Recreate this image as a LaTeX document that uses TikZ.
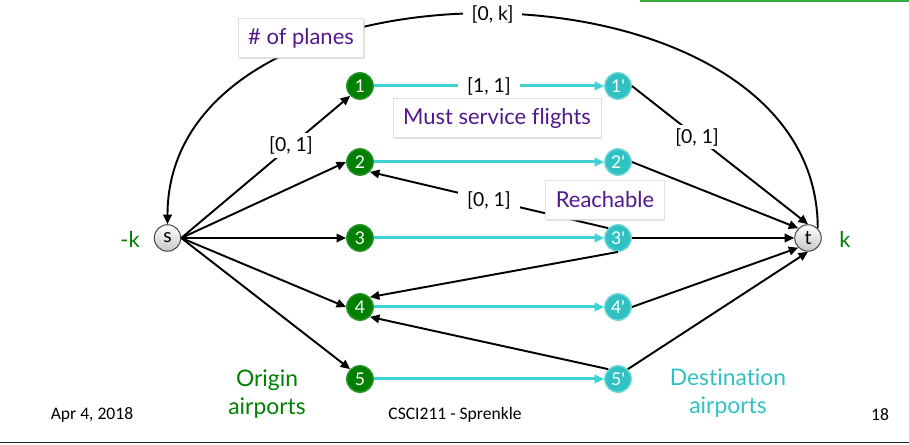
\documentclass[tikz,border=0pt]{standalone}
\usepackage{fontspec}
\setmainfont{Lato}[Ligatures=NoCommon]
\newfontfamily\footfont{Carlito}
\usetikzlibrary{arrows.meta,shadows}

\definecolor{origfill}{RGB}{0,128,0}
\definecolor{origline}{RGB}{45,150,45}
\definecolor{destfill}{RGB}{48,194,194}
\definecolor{destline}{RGB}{120,216,216}
\definecolor{flightcol}{RGB}{64,210,210}
\definecolor{notecol}{RGB}{82,24,140}
\definecolor{framecol}{RGB}{60,170,60}

\begin{document}
\begin{tikzpicture}[
    every node/.style={font=\fontsize{11}{13}\selectfont},
    orig/.style={circle, fill=origfill, draw=origline, line width=0.8pt,
        minimum size=0.53cm, inner sep=0pt, text=white, font=\fontsize{10}{11}\selectfont},
    dst/.style={orig, fill=destfill, draw=destline},
    endpt/.style={circle, draw=black!70, line width=0.6pt, top color=white,
        bottom color=black!22, minimum size=0.53cm, inner sep=0pt, font=\fontsize{11}{12}\selectfont},
    link/.style={-{Triangle[length=1.9mm,width=1.7mm]}, line width=1.1pt},
    flightarc/.style={link, draw=flightcol, line width=1.7pt},
    lbl/.style={fill=white, inner xsep=5pt, inner ysep=2pt},
    notebox/.style={draw=black!12, fill=white, text=notecol, inner xsep=0.2cm,
        minimum height=0.78cm, font=\fontsize{12.5}{14}\selectfont,
        drop shadow={shadow xshift=0.6pt, shadow yshift=-0.8pt, fill=black!22}},
    foot/.style={font=\footfont\fontsize{10}{12}\selectfont},
]
\useasboundingbox (0,0) rectangle (18.18,8.9);

% edge of the box above
\path[draw=framecol, line width=1.2pt, fill=white,
    drop shadow={shadow xshift=0.5pt, shadow yshift=-0.8pt, fill=black!22}]
    (12.82,8.88) rectangle (18.6,9.6);

\node[endpt] (s) at (3.35,4.14) {s};
\node[endpt] (t) at (16.16,4.14) {t};
\foreach \i/\y in {1/7.18,2/5.66,3/4.14,4/2.76,5/1.32}{
    \node[orig] (o\i) at (7.2,\y) {\i};
    \node[dst] (d\i) at (12.36,\y) {\i\textquotesingle};
}

% flights
\draw[flightarc] (o1.east) -- node[lbl] {[1, 1]} (d1.west);
\foreach \i in {2,...,5}
    \draw[flightarc] (o\i.east) -- (d\i.west);

% source side
\draw[link] (s.east) -- node[lbl, pos=.65] {[0, 1]} (o1.south west);
\draw[link] (s.east) -- (o2.west);
\draw[link] (s.east) -- (o3.west);
\draw[link] (s.east) -- (o4.west);
\draw[link] (s.east) -- (o5.north west);

% sink side
\draw[link] (d1.east) -- node[lbl, pos=.37] {[0, 1]} (t.north);
\draw[link] (d2.east) -- (t.north west);
\draw[link] (d3.east) -- (t.west);
\draw[link] (d4.east) -- (t.south west);
\draw[link] (d5.north east) -- (t.south);

% reachable
\draw[link] (d3.north west) -- node[lbl] {[0, 1]} (o2.south east);
\draw[link] (d3.south) -- (o4.north east);
\draw[link] (d5.north west) -- (o4.south east);

% planes back to s
\draw[link] (t.north east) .. controls +(0,5.65) and +(0,5.65) .. node[lbl] {[0, k]} (s.north);

\node[notebox] (planes) at (6.02,8.14) {\# of planes};
\node[notebox] (must) at (9.94,6.54) {Must service flights};
\node[notebox] (reach) at (12.1,4.9) {Reachable};

\node[text=origfill, font=\fontsize{12.5}{14}\selectfont] (supply) at (2.6,4.12) {-k};
\node[text=origfill, font=\fontsize{12.5}{14}\selectfont] (demand) at (16.9,4.12) {k};
\node[align=center, text=origfill, font=\fontsize{13}{16}\selectfont] (origtxt) at (5.34,1.02) {Origin\\airports};
\node[align=center, text=destfill, font=\fontsize{13}{16}\selectfont] (desttxt) at (14.56,1.04) {Destination\\airports};

% footer
\node[foot] (date) at (1.84,0.6) {Apr 4, 2018};
\node[foot] (course) at (9.1,0.6) {CSCI211 - Sprenkle};
\node[foot] (page) at (17.6,0.6) {18};
\draw[line width=1pt, black!85] (0,0.05) -- (18.18,0.05);
\end{tikzpicture}
\end{document}
